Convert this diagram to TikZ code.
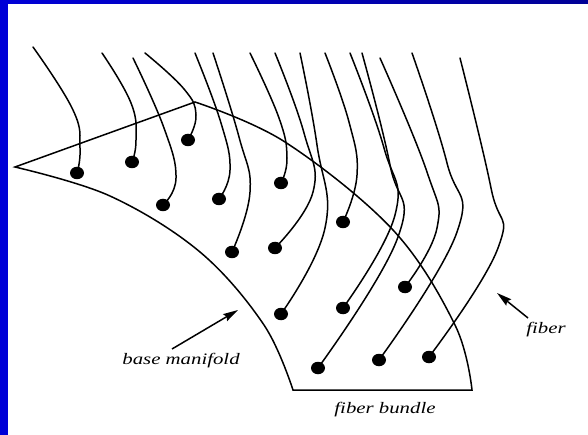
\documentclass[tikz,border=0pt]{standalone}
\usepackage{fontspec}
\setmainfont{Liberation Serif}
\newfontfamily\labfont{Liberation Serif}[UprightFont={* Italic}]
\usepackage{graphicx}
\usetikzlibrary{arrows.meta,shapes.geometric}
\definecolor{frameblue}{RGB}{0,0,215}
\definecolor{frameblue2}{RGB}{0,0,150}
\begin{document}
\begin{tikzpicture}[x=1pt,y=-1pt,
  edge/.style={line width=1.5pt, line join=miter},
  fib/.style={line width=1.5pt, line cap=round},
  dot/.style={ellipse, fill=black, inner sep=0pt, minimum width=14pt, minimum height=12.5pt},
  lab/.style={font=\labfont\fontsize{16}{18}\selectfont, inner sep=0pt},
  arr/.style={line width=1.5pt, -{Stealth[length=15pt,width=8pt,inset=2pt]}}]

\useasboundingbox (0,0) rectangle (588,435);
\fill[white] (0,0) rectangle (588,435);
\fill[left color=frameblue, right color=frameblue2] (0,0) rectangle (588,4);
\fill[frameblue] (0,0) rectangle (8,435);

% base manifold outline
\draw[edge] (15,167) -- (195,102)
  -- plot[smooth, tension=0.6] coordinates {(195,102) (285,142) (393,230) (455,325) (472,390)}
  -- (293,390)
  -- plot[smooth, tension=0.6] coordinates {(293,390) (264,325) (200,252) (110,196) (15,167)}
  -- cycle;

% dots
\node[dot] (d1) at (77,173) {};
\node[dot] (d2) at (132,162) {};
\node[dot] (d3) at (188,140) {};
\node[dot] (d4) at (163,205) {};
\node[dot] (d5) at (219,199) {};
\node[dot] (d6) at (281,183) {};
\node[dot] (d7) at (232,252) {};
\node[dot] (d8) at (275,248) {};
\node[dot] (d9) at (343,222) {};
\node[dot] (d10) at (281,314) {};
\node[dot] (d11) at (343,308) {};
\node[dot] (d12) at (405,287) {};
\node[dot] (d13) at (318,368) {};
\node[dot] (d14) at (379,360) {};
\node[dot] (d15) at (429,357) {};

% fibers
\begin{scope}[every path/.style={fib}]
\draw plot[smooth, tension=0.75] coordinates {(33,47) (73,110) (80,148) (d1.center)};
\draw plot[smooth, tension=0.75] coordinates {(102,53) (131,103) (136,140) (d2.center)};
\draw plot[smooth, tension=0.75] coordinates {(133,58) (164,128) (176,178) (d4.center)};
\draw plot[smooth, tension=0.75] coordinates {(145,53) (184,89) (196,115) (d3.center)};
\draw plot[smooth, tension=0.75] coordinates {(195,53) (221,123) (230,170) (d5.center)};
\draw plot[smooth, tension=0.75] coordinates {(213,53) (239,137) (250,192) (d7.center)};
\draw plot[smooth, tension=0.75] coordinates {(250,53) (279,118) (287,158) (d6.center)};
\draw plot[smooth, tension=0.75] coordinates {(275,53) (304,133) (313,192) (d8.center)};
\draw plot[smooth, tension=0.75] coordinates {(300,53) (317,145) (325,228) (d10.center)};
\draw plot[smooth, tension=0.75] coordinates {(325,53) (349,122) (357,175) (d9.center)};
\draw plot[smooth, tension=0.75] coordinates {(350,53) (384,148) (395,215) (d11.center)};
\draw plot[smooth, tension=0.75] coordinates {(362,53) (390,165) (398,237) (d13.center)};
\draw plot[smooth, tension=0.75] coordinates {(380,58) (427,172) (437,228) (d12.center)};
\draw plot[smooth, tension=0.75] coordinates {(412,53) (447,163) (457,232) (d14.center)};
\draw plot[smooth, tension=0.75] coordinates {(460,58) (491,188) (498,248) (d15.center)};
\end{scope}

% labels and arrows
\node[lab] (bm) at (181,361) {\scalebox{1.3}[1]{base manifold}};
\node[lab] (fb) at (385,410) {\scalebox{1.3}[1]{fiber bundle}};
\node[lab] (fl) at (546,330) {\scalebox{1.3}[1]{fiber}};
\coordinate (bmtail) at (172,349);
\coordinate (bmtip) at (238,310);
\coordinate (fltail) at (528,318);
\coordinate (fltip) at (497,293);
\draw[arr] (bmtail) -- (bmtip);
\draw[arr] (fltail) -- (fltip);
\end{tikzpicture}
\end{document}
